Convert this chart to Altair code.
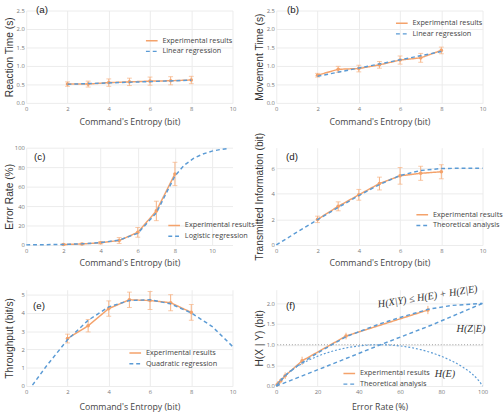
import altair as alt
import pandas as pd

ORANGE = "#F4A26B"
ORANGE_BAR = "#F6B080"
BLUE = "#5B9BD5"
EXP_NAME = "Experimental results"

entropy = [2, 3, 4, 5, 6, 7, 8]

# (a) reaction time
reaction_mean = [0.51, 0.51, 0.55, 0.57, 0.59, 0.60, 0.62]
reaction_err = [0.06, 0.08, 0.10, 0.10, 0.11, 0.11, 0.10]
reaction_fit_x = [2, 8]
reaction_fit_y = [0.505, 0.615]

# (b) movement time
movement_mean = [0.75, 0.91, 0.93, 1.03, 1.16, 1.22, 1.42]
movement_err = [0.05, 0.08, 0.09, 0.09, 0.11, 0.12, 0.09]
movement_fit_x = [2, 8]
movement_fit_y = [0.72, 1.39]

# (c) error rate
error_mean = [0.5, 1.0, 2.3, 4.6, 13, 35, 73]
error_err = [0.5, 0.8, 1.2, 3, 5, 10, 12]
error_fit_x = [0, 1, 2, 3, 4, 5, 6, 7, 7.5, 8, 8.5, 9, 9.5, 10, 10.5, 10.9]
error_fit_y = [0.1, 0.3, 0.6, 1.2, 2.5, 5, 12, 33, 52, 71, 82, 89, 93.5, 96.5, 98.3, 99.2]

# (d) transmitted information
info_mean = [2.0, 3.02, 3.92, 4.8, 5.4, 5.6, 5.72]
info_err = [0.25, 0.35, 0.42, 0.5, 0.65, 0.55, 0.55]
info_fit_x = [0, 1, 2, 3, 4, 5, 6, 7, 8, 9, 10]
info_fit_y = [0, 1.0, 1.98, 2.93, 3.86, 4.72, 5.43, 5.82, 5.97, 6.0, 6.0]

# (e) throughput
through_mean = [2.6, 3.3, 4.24, 4.72, 4.68, 4.56, 4.03]
through_err = [0.24, 0.34, 0.42, 0.42, 0.49, 0.44, 0.43]
through_fit_x = [0.3, 1, 2, 3, 4, 5, 6, 7, 8, 9, 10]
through_fit_y = [0.05, 1.13, 2.53, 3.6, 4.33, 4.68, 4.72, 4.5, 4.0, 3.27, 2.17]

# (f) conditional entropy vs error rate
cond_rate = [0.4, 1.0, 2.2, 4.3, 12.5, 33.8, 73.5]
cond_mean = [0.03, 0.07, 0.13, 0.25, 0.61, 1.21, 1.84]
cond_err = [0.03, 0.04, 0.06, 0.08, 0.10, 0.08, 0.10]
cond_fit_x = [0, 2, 5, 10, 13, 20, 27, 34, 42, 50, 60, 74, 85, 100]
cond_fit_y = [0, 0.12, 0.28, 0.48, 0.58, 0.8, 1.0, 1.2, 1.35, 1.5, 1.66, 1.86, 1.95, 2.0]
hze_x = [0, 25, 50, 75, 100]
hze_y = [0, 0.49, 0.99, 1.47, 2.0]
he_x = [0, 2, 5, 10, 20, 30, 40, 50, 60, 70, 80, 90, 95, 98, 100]
he_y = [0, 0.14, 0.29, 0.47, 0.72, 0.88, 0.97, 1.0, 0.97, 0.88, 0.72, 0.47, 0.29, 0.14, 0]


def make_panel(label, label_pos, exp_x, exp_y, exp_err, fit_x, fit_y, fit_name,
               x_domain, x_ticks, y_domain, y_ticks, x_title, y_title,
               width, height, legend_pos, row_pad, x_title_pad, caps=True, extra=()):
    exp_df = pd.DataFrame({
        "x": exp_x, "y": exp_y,
        "lo": [m - e for m, e in zip(exp_y, exp_err)],
        "hi": [m + e for m, e in zip(exp_y, exp_err)],
        "series": EXP_NAME,
    })
    fit_df = pd.DataFrame({"x": fit_x, "y": fit_y, "series": fit_name})

    xs = alt.Scale(domain=x_domain, nice=False, zero=False)
    ys = alt.Scale(domain=y_domain, nice=False, zero=False)
    x_enc = alt.X("x:Q", scale=xs, title=x_title,
                  axis=alt.Axis(values=x_ticks, titlePadding=x_title_pad))

    def y_enc(field):
        return alt.Y(field, scale=ys, title=y_title, axis=alt.Axis(values=y_ticks))

    legend = alt.Legend(orient="none", legendX=legend_pos[0], legendY=legend_pos[1],
                        title=None, rowPadding=row_pad)
    names = [EXP_NAME, fit_name]
    color = alt.Color("series:N", scale=alt.Scale(domain=names, range=[ORANGE, BLUE]),
                      legend=legend)
    dash = alt.StrokeDash("series:N", scale=alt.Scale(domain=names, range=[[1, 0], [4, 3]]),
                          legend=legend)

    layers = []
    layers.append(alt.Chart(exp_df).mark_rule(color=ORANGE_BAR, strokeWidth=1).encode(
        x=x_enc, y=y_enc("lo:Q"), y2="hi:Q"))
    if caps:
        for f in ("lo:Q", "hi:Q"):
            layers.append(alt.Chart(exp_df).mark_tick(
                orient="horizontal", size=5, thickness=1, color=ORANGE_BAR).encode(
                x=x_enc, y=y_enc(f)))
    layers.append(alt.Chart(exp_df).mark_line(strokeWidth=1.5).encode(
        x=x_enc, y=y_enc("y:Q"), color=color, strokeDash=dash))
    layers.append(alt.Chart(exp_df).mark_point(
        filled=True, size=14, color=ORANGE, opacity=1).encode(x=x_enc, y=y_enc("y:Q")))
    for build in extra:
        layers.append(build(x_enc, y_enc))
    layers.append(alt.Chart(fit_df).mark_line(strokeWidth=1.5).encode(
        x=x_enc, y=y_enc("y:Q"), color=color, strokeDash=dash))
    layers.append(alt.Chart(pd.DataFrame({"t": [label]})).mark_text(
        font="Liberation Sans", fontSize=10, align="left", baseline="middle",
        color="#222").encode(text="t:N", x=alt.value(label_pos[0]), y=alt.value(label_pos[1])))

    return alt.layer(*layers).properties(width=width, height=height)


W = 212
ENTROPY_TITLE = "Command's Entropy (bit)"
ent_ticks = [0, 2, 4, 6, 8, 10]

panel_a = make_panel("(a)", (10, 0), entropy, reaction_mean, reaction_err,
                     reaction_fit_x, reaction_fit_y, "Linear regression",
                     [0, 10], ent_ticks, [0, 2.5], [0, 0.5, 1, 1.5, 2, 2.5],
                     ENTROPY_TITLE, "Reaction Time (s)", W, 95, (122, 24), 0, 6)
panel_b = make_panel("(b)", (11, 0), entropy, movement_mean, movement_err,
                     movement_fit_x, movement_fit_y, "Linear regression",
                     [0, 10], ent_ticks, [0, 2.5], [0, 0.5, 1, 1.5, 2, 2.5],
                     ENTROPY_TITLE, "Movement Time (s)", W, 95, (122, 6), 0, 6)
panel_c = make_panel("(c)", (8, 10), entropy, error_mean, error_err,
                     error_fit_x, error_fit_y, "Logistic regression",
                     [0, 11.1], ent_ticks, [0, 100], [0, 20, 40, 60, 80, 100],
                     ENTROPY_TITLE, "Error Rate (%)", W, 100, (145, 73), -3, 5.5)
panel_d = make_panel("(d)", (10, 10), entropy, info_mean, info_err,
                     info_fit_x, info_fit_y, "Theoretical analysis",
                     [0, 10], ent_ticks, [0, 7.6], [0, 2, 4, 6],
                     ENTROPY_TITLE, "Transmitted Information (bit)", W, 100, (143, 62), -3, 5.5)
panel_e = make_panel("(e)", (7, 17), entropy, through_mean, through_err,
                     through_fit_x, through_fit_y, "Quadratic regression",
                     [0, 10], ent_ticks, [0, 5.27], [0, 1, 2, 3, 4, 5],
                     ENTROPY_TITLE, "Throughput (bit/s)", W, 99, (105, 58), -3, 8)


def ref_line(x_enc, y_enc):
    return alt.Chart(pd.DataFrame({"y": [1]})).mark_rule(
        color="#999", strokeWidth=1, strokeDash=[1, 2]).encode(y=y_enc("y:Q"))


def hze_curve(x_enc, y_enc):
    return alt.Chart(pd.DataFrame({"x": hze_x, "y": hze_y})).mark_line(
        color=BLUE, strokeWidth=1.5, strokeDash=[4, 3]).encode(x=x_enc, y=y_enc("y:Q"))


def he_curve(x_enc, y_enc):
    return alt.Chart(pd.DataFrame({"x": he_x, "y": he_y})).mark_line(
        color=BLUE, strokeWidth=1.2, strokeDash=[2, 2], interpolate="monotone").encode(
        x=x_enc, y=y_enc("y:Q"))


def math_note(text, x, y, angle):
    def build(x_enc, y_enc):
        return alt.Chart(pd.DataFrame({"x": [x], "y": [y], "t": [text]})).mark_text(
            font="Liberation Serif", fontStyle="italic", fontSize=10.5, color="#333",
            angle=angle).encode(x=x_enc, y=y_enc("y:Q"), text="t:N")
    return build


panel_f = make_panel("(f)", (10, 17), cond_rate, cond_mean, cond_err,
                     cond_fit_x, cond_fit_y, "Theoretical analysis",
                     [0, 100], [0, 20, 40, 60, 80, 100], [0, 2.33], [0, 0.5, 1, 1.5, 2],
                     "Error Rate (%)", "H(X | Y) (bit)", W, 99, (68, 79), -3, 8,
                     caps=False,
                     extra=(ref_line, hze_curve, he_curve,
                            math_note("H(X|Y) ≤ H(E) + H(Z|E)", 73.4, 2.16, 351),
                            math_note("H(Z|E)", 94.4, 1.37, 0),
                            math_note("H(E)", 81.8, 0.28, 0)))

chart = alt.concat(
    panel_a, panel_b, panel_c, panel_d, panel_e, panel_f,
    columns=2, spacing=alt.RowColnumber(row=46, column=45), bounds="flush", align="each"
).resolve_scale(
    color="independent", strokeDash="independent"
).properties(
    padding={"left": 5, "top": 0, "right": 0, "bottom": 0}
).configure_view(
    stroke=None
).configure_axis(
    domain=False, ticks=False, grid=True, gridColor="#ebebeb", gridWidth=1,
    labelFont="Open Sans", labelFontSize=6, labelColor="#777", labelOverlap=False,
    labelFlush=False, titleFontWeight="normal"
).configure_axisX(
    labelPadding=3, titleFont="Open Sans", titleFontSize=9, titleColor="#444"
).configure_axisY(
    labelPadding=2, minExtent=10, maxExtent=10, titlePadding=2,
    titleFont="Liberation Sans", titleFontSize=10.5, titleColor="#333"
).configure_legend(
    symbolType="stroke", symbolSize=144, symbolStrokeWidth=1.5,
    labelFont="Open Sans", labelFontSize=7.5, labelColor="#444", padding=0, offset=0
)

chart.save("out.html", embed_options={"renderer": "svg", "actions": False})
